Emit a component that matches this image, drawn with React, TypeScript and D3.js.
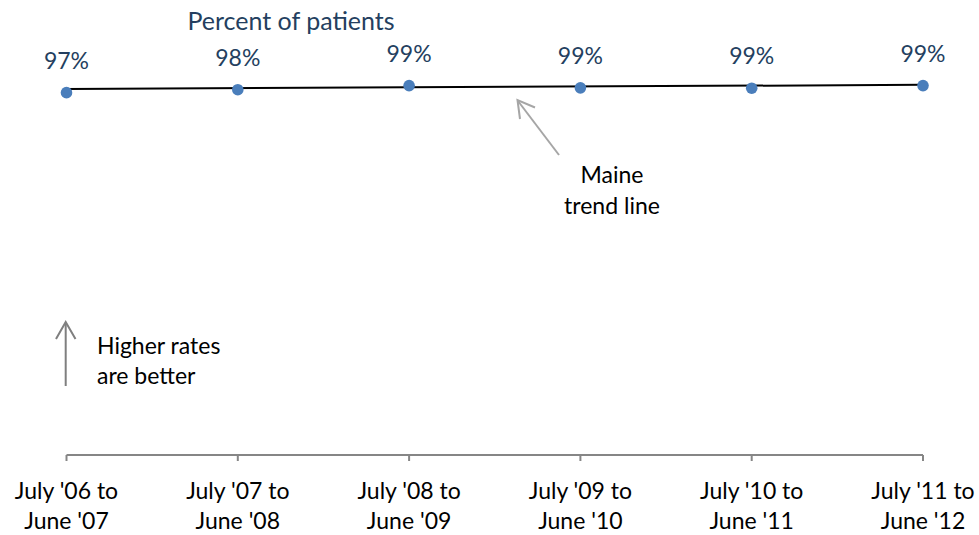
import React from "react";
import * as d3 from "d3";

const categories: string[][] = [
  ["July '06 to", "June '07"],
  ["July '07 to", "June '08"],
  ["July '08 to", "June '09"],
  ["July '09 to", "June '10"],
  ["July '10 to", "June '11"],
  ["July '11 to", "June '12"],
];
const values: number[] = [97.4, 98.2, 99.3, 98.7, 98.6, 99.3];
const valueLabels: string[] = ["97%", "98%", "99%", "99%", "99%", "99%"];
const trendValues: number[] = [98.4, 99.5];
const title = "Percent of patients";
const trendNote: string[] = ["Maine", "trend line"];
const betterNote: string[] = ["Higher rates", "are better"];

const W = 979;
const H = 535;
const FONT = "Lato, 'Open Sans', sans-serif";

export default function App() {
  const keys = categories.map((c) => c.join(" "));
  const x = d3.scalePoint<string>().domain(keys).range([66.5, 923]);
  const y = d3.scaleLinear().domain([0, 100]).range([455, 83]);
  const axisY = y(0);

  const trendLine = d3
    .line<number>()
    .x((_, i) => (i === 0 ? x(keys[0])! : x(keys[keys.length - 1])!))
    .y((d) => y(d));

  return (
    <svg
      width={W}
      height={H}
      style={{ position: "absolute", left: 0, top: 0, background: "#fff" }}
      fontFamily={FONT}
    >
      <text x={291} y={30} textAnchor="middle" fontSize={25} fill="#243F60">
        {title}
      </text>

      {/* x axis */}
      <line x1={x(keys[0])} x2={x(keys[keys.length - 1])} y1={axisY} y2={axisY} stroke="#868686" strokeWidth={2} />
      {keys.map((k) => (
        <line key={k} x1={x(k)} x2={x(k)} y1={axisY} y2={axisY + 6} stroke="#868686" strokeWidth={2} />
      ))}
      {categories.map((c, i) => (
        <text key={i} x={x(keys[i])} textAnchor="middle" fontSize={23} fill="#000">
          <tspan x={x(keys[i])} y={499}>{c[0]}</tspan>
          <tspan x={x(keys[i])} y={529}>{c[1]}</tspan>
        </text>
      ))}

      {/* trend line */}
      <path d={trendLine(trendValues)!} stroke="#000" strokeWidth={2} fill="none" />

      {/* points */}
      {values.map((v, i) => (
        <circle key={i} cx={x(keys[i])} cy={y(v)} r={5.8} fill="#4A7EBB" />
      ))}
      {values.map((v, i) => (
        <text key={i} x={x(keys[i])} y={y(v) - 24} textAnchor="middle" fontSize={23} fill="#243F60">
          {valueLabels[i]}
        </text>
      ))}

      {/* Maine trend line annotation */}
      <g stroke="#A6A6A6" strokeWidth={2} fill="none">
        <line x1={559} y1={155} x2={518} y2={101} />
        <polyline points="520,119 517.5,100 535,107.5" />
      </g>
      <text textAnchor="middle" fontSize={23} fill="#000">
        <tspan x={612} y={183}>{trendNote[0]}</tspan>
        <tspan x={612} y={214}>{trendNote[1]}</tspan>
      </text>

      {/* Higher rates are better */}
      <g stroke="#7F7F7F" strokeWidth={2} fill="none">
        <line x1={65.7} y1={386} x2={65.7} y2={323} />
        <polyline points="56,339 65.7,322 75.5,339" />
      </g>
      <text fontSize={23} fill="#000">
        <tspan x={97} y={354}>{betterNote[0]}</tspan>
        <tspan x={97} y={384}>{betterNote[1]}</tspan>
      </text>
    </svg>
  );
}
